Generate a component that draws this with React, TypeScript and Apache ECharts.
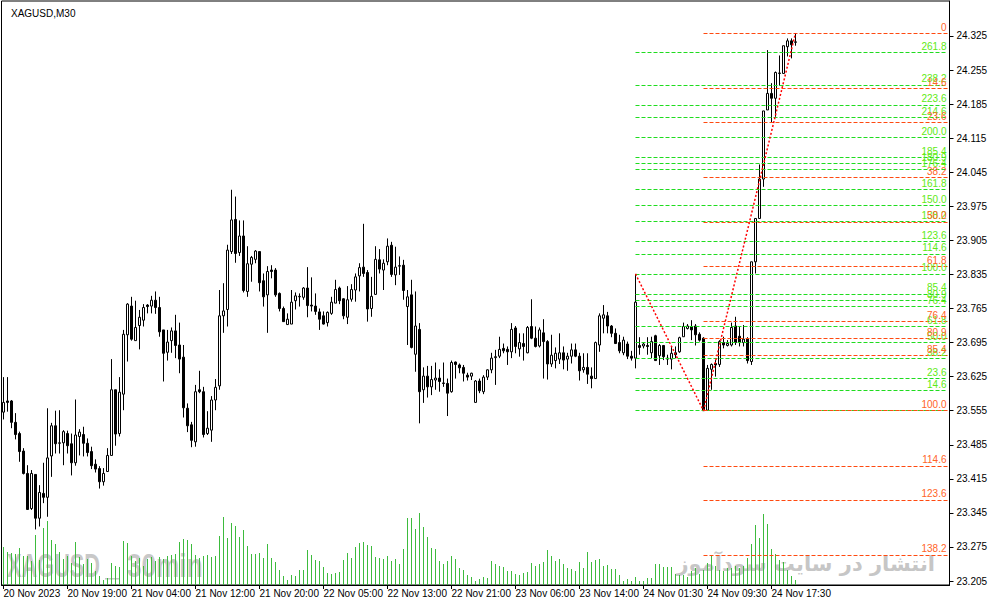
import { useEffect, useRef } from 'react'
import * as echarts from 'echarts'

// MT4 style XAGUSD M30 chart: candles, tick volume and two fibonacci fans

const SLOT_COUNT = 237
const LABEL_STEP = 16

const timeLabels = [
  '20 Nov 2023', '20 Nov 19:00', '21 Nov 04:00', '21 Nov 12:00', '21 Nov 20:00',
  '22 Nov 05:00', '22 Nov 13:00', '22 Nov 21:00', '23 Nov 06:00', '23 Nov 14:00',
  '24 Nov 01:30', '24 Nov 09:30', '24 Nov 17:30',
]

const priceTicks = [
  24.325, 24.255, 24.185, 24.115, 24.045, 23.975, 23.905, 23.835, 23.765,
  23.695, 23.625, 23.555, 23.485, 23.415, 23.345, 23.275, 23.205,
]

// [open, close, low, high]
const candles = [
  [23.552, 23.572, 23.537, 23.624], [23.575, 23.572, 23.553, 23.624], [23.575, 23.531, 23.519, 23.577],
  [23.531, 23.506, 23.496, 23.55], [23.508, 23.471, 23.45, 23.512], [23.472, 23.426, 23.424, 23.478],
  [23.426, 23.352, 23.351, 23.443], [23.354, 23.426, 23.351, 23.433], [23.424, 23.334, 23.311, 23.424],
  [23.334, 23.387, 23.317, 23.402], [23.385, 23.377, 23.365, 23.448], [23.377, 23.458, 23.337, 23.56],
  [23.462, 23.524, 23.419, 23.53], [23.524, 23.487, 23.467, 23.555], [23.488, 23.489, 23.467, 23.556],
  [23.489, 23.512, 23.443, 23.515], [23.508, 23.483, 23.467, 23.514], [23.487, 23.448, 23.422, 23.508],
  [23.448, 23.505, 23.442, 23.578], [23.502, 23.511, 23.463, 23.517], [23.506, 23.488, 23.461, 23.522],
  [23.488, 23.469, 23.461, 23.498], [23.471, 23.442, 23.435, 23.481], [23.445, 23.435, 23.428, 23.455],
  [23.436, 23.409, 23.395, 23.441], [23.409, 23.426, 23.401, 23.437], [23.43, 23.463, 23.43, 23.478],
  [23.463, 23.598, 23.463, 23.661], [23.598, 23.507, 23.483, 23.598], [23.508, 23.593, 23.502, 23.624],
  [23.589, 23.712, 23.556, 23.721], [23.711, 23.774, 23.656, 23.776], [23.77, 23.702, 23.699, 23.789],
  [23.699, 23.726, 23.699, 23.781], [23.73, 23.747, 23.681, 23.762], [23.741, 23.767, 23.728, 23.774],
  [23.772, 23.769, 23.755, 23.774], [23.77, 23.782, 23.755, 23.791], [23.782, 23.767, 23.754, 23.8],
  [23.767, 23.717, 23.707, 23.789], [23.721, 23.673, 23.615, 23.721], [23.675, 23.696, 23.658, 23.721],
  [23.699, 23.719, 23.674, 23.726], [23.719, 23.689, 23.663, 23.752], [23.69, 23.661, 23.632, 23.736],
  [23.665, 23.561, 23.541, 23.69], [23.56, 23.524, 23.511, 23.57], [23.526, 23.494, 23.48, 23.532],
  [23.491, 23.594, 23.481, 23.608], [23.598, 23.594, 23.591, 23.637], [23.594, 23.506, 23.5, 23.604],
  [23.508, 23.519, 23.505, 23.554], [23.515, 23.577, 23.491, 23.585], [23.577, 23.603, 23.556, 23.62],
  [23.606, 23.75, 23.598, 23.803], [23.75, 23.76, 23.715, 23.817], [23.763, 23.885, 23.728, 23.896],
  [23.882, 23.947, 23.877, 24.009], [23.948, 23.878, 23.859, 23.995], [23.88, 23.914, 23.873, 23.946],
  [23.914, 23.802, 23.798, 23.946], [23.8, 23.857, 23.789, 23.893], [23.856, 23.87, 23.82, 23.873],
  [23.866, 23.883, 23.858, 23.885], [23.882, 23.818, 23.8, 23.882], [23.822, 23.789, 23.769, 23.837],
  [23.793, 23.841, 23.715, 23.852], [23.844, 23.841, 23.827, 23.854], [23.844, 23.793, 23.789, 23.848],
  [23.796, 23.765, 23.759, 23.798], [23.765, 23.738, 23.738, 23.769], [23.732, 23.743, 23.731, 23.755],
  [23.733, 23.778, 23.733, 23.803], [23.781, 23.791, 23.763, 23.798], [23.789, 23.79, 23.769, 23.796],
  [23.788, 23.807, 23.783, 23.809], [23.807, 23.771, 23.747, 23.85], [23.772, 23.77, 23.759, 23.829],
  [23.77, 23.759, 23.752, 23.796], [23.758, 23.743, 23.721, 23.765], [23.75, 23.733, 23.732, 23.759],
  [23.736, 23.757, 23.728, 23.759], [23.755, 23.778, 23.752, 23.789], [23.776, 23.804, 23.776, 23.824],
  [23.807, 23.781, 23.774, 23.81], [23.785, 23.75, 23.743, 23.786], [23.747, 23.783, 23.733, 23.811],
  [23.784, 23.804, 23.779, 23.815], [23.803, 23.83, 23.779, 23.837], [23.832, 23.849, 23.8, 23.858],
  [23.85, 23.837, 23.83, 23.939], [23.839, 23.764, 23.738, 23.844], [23.765, 23.79, 23.748, 23.83],
  [23.794, 23.866, 23.793, 23.893], [23.865, 23.846, 23.837, 23.887], [23.844, 23.858, 23.803, 23.866],
  [23.861, 23.893, 23.854, 23.909], [23.895, 23.835, 23.83, 23.902], [23.834, 23.85, 23.813, 23.892],
  [23.852, 23.853, 23.834, 23.872], [23.854, 23.802, 23.783, 23.865], [23.769, 23.789, 23.69, 23.803],
  [23.793, 23.685, 23.683, 23.824], [23.671, 23.729, 23.635, 23.8], [23.722, 23.594, 23.529, 23.735],
  [23.598, 23.626, 23.571, 23.644], [23.626, 23.604, 23.582, 23.647], [23.604, 23.619, 23.587, 23.647],
  [23.618, 23.622, 23.598, 23.654], [23.622, 23.615, 23.594, 23.64], [23.612, 23.611, 23.604, 23.654],
  [23.611, 23.591, 23.544, 23.621], [23.594, 23.654, 23.592, 23.658], [23.655, 23.65, 23.621, 23.656],
  [23.649, 23.643, 23.632, 23.652], [23.644, 23.632, 23.615, 23.649], [23.628, 23.624, 23.617, 23.633],
  [23.626, 23.632, 23.618, 23.633], [23.572, 23.616, 23.572, 23.618], [23.616, 23.596, 23.591, 23.621],
  [23.594, 23.624, 23.589, 23.628], [23.624, 23.639, 23.618, 23.64], [23.639, 23.663, 23.632, 23.674],
  [23.664, 23.666, 23.608, 23.68], [23.667, 23.681, 23.663, 23.707], [23.683, 23.678, 23.673, 23.693],
  [23.681, 23.676, 23.649, 23.687], [23.676, 23.722, 23.663, 23.735], [23.725, 23.687, 23.673, 23.729],
  [23.682, 23.695, 23.666, 23.714], [23.693, 23.687, 23.658, 23.714], [23.674, 23.726, 23.673, 23.729],
  [23.728, 23.704, 23.702, 23.784], [23.704, 23.687, 23.685, 23.728], [23.688, 23.721, 23.685, 23.726],
  [23.715, 23.697, 23.621, 23.743], [23.697, 23.651, 23.619, 23.7], [23.651, 23.669, 23.645, 23.711],
  [23.658, 23.673, 23.642, 23.685], [23.661, 23.674, 23.651, 23.714], [23.674, 23.659, 23.64, 23.687],
  [23.661, 23.667, 23.637, 23.674], [23.667, 23.68, 23.652, 23.693], [23.68, 23.667, 23.665, 23.693],
  [23.667, 23.637, 23.617, 23.674], [23.639, 23.644, 23.633, 23.673], [23.644, 23.63, 23.61, 23.673],
  [23.626, 23.621, 23.601, 23.644], [23.621, 23.695, 23.621, 23.697], [23.69, 23.75, 23.676, 23.755],
  [23.745, 23.752, 23.714, 23.772], [23.75, 23.729, 23.714, 23.758], [23.729, 23.714, 23.706, 23.731],
  [23.714, 23.693, 23.692, 23.724], [23.695, 23.678, 23.673, 23.711], [23.674, 23.7, 23.669, 23.707],
  [23.692, 23.667, 23.661, 23.697], [23.667, 23.663, 23.658, 23.678], [23.663, 23.778, 23.642, 23.836],
  [23.689, 23.685, 23.67, 23.706], [23.688, 23.692, 23.683, 23.695], [23.689, 23.687, 23.67, 23.706],
  [23.674, 23.697, 23.663, 23.707], [23.709, 23.658, 23.658, 23.711], [23.668, 23.689, 23.649, 23.692],
  [23.689, 23.666, 23.659, 23.69], [23.663, 23.661, 23.649, 23.67], [23.661, 23.673, 23.64, 23.687],
  [23.674, 23.67, 23.663, 23.687], [23.676, 23.705, 23.674, 23.707], [23.707, 23.728, 23.707, 23.736],
  [23.724, 23.729, 23.722, 23.733], [23.728, 23.721, 23.7, 23.741], [23.729, 23.711, 23.689, 23.733],
  [23.712, 23.7, 23.697, 23.716], [23.704, 23.555, 23.555, 23.706], [23.556, 23.642, 23.555, 23.649],
  [23.64, 23.65, 23.598, 23.652], [23.652, 23.649, 23.625, 23.659], [23.65, 23.697, 23.645, 23.7],
  [23.695, 23.69, 23.683, 23.707], [23.689, 23.693, 23.687, 23.7], [23.69, 23.726, 23.687, 23.736],
  [23.729, 23.695, 23.69, 23.748], [23.708, 23.695, 23.687, 23.728], [23.695, 23.702, 23.687, 23.731],
  [23.702, 23.658, 23.652, 23.706], [23.656, 23.861, 23.649, 23.861], [23.861, 23.95, 23.837, 23.95],
  [23.95, 24.031, 23.95, 24.061], [24.031, 24.171, 24.015, 24.171], [24.173, 24.207, 24.173, 24.296],
  [24.207, 24.197, 24.148, 24.228], [24.197, 24.25, 24.159, 24.252], [24.248, 24.249, 24.223, 24.285],
  [24.248, 24.305, 24.248, 24.305], [24.303, 24.315, 24.283, 24.32], [24.315, 24.307, 24.279, 24.32],
  [24.312, 24.313, 24.305, 24.331],
]

// tick volume per bar (hundreds of ticks)
const volumes = [
  38, 33, 32, 31, 37, 29, 29, 24, 50, 25,
  57, 64, 45, 41, 33, 26, 29, 22, 43, 28,
  21, 26, 22, 14, 9, 5, 7, 22, 19, 18,
  44, 42, 29, 24, 27, 19, 26, 28, 24, 28,
  26, 29, 30, 31, 43, 46, 45, 41, 30, 27,
  29, 30, 28, 29, 49, 68, 47, 62, 59, 48,
  55, 39, 31, 31, 32, 27, 41, 27, 23, 15,
  9, 5, 10, 9, 15, 15, 35, 30, 25, 24,
  18, 12, 11, 12, 13, 25, 32, 27, 38, 42,
  43, 40, 39, 28, 27, 26, 29, 24, 26, 21,
  36, 67, 67, 56, 72, 58, 48, 37, 36, 24,
  21, 24, 29, 26, 17, 15, 10, 8, 4, 6,
  8, 7, 24, 21, 19, 18, 14, 14, 11, 10,
  12, 13, 22, 19, 21, 23, 35, 29, 24, 26,
  21, 17, 16, 14, 23, 17, 33, 23, 25, 26,
  19, 20, 16, 16, 10, 4, 6, 4, 8, 4,
  4, 7, 7, 21, 21, 18, 18, 18, 11, 10,
  10, 8, 14, 17, 11, 15, 22, 30, 19, 15,
  14, 17, 17, 19, 17, 19, 27, 41, 60, 47,
  71, 61, 36, 31, 25, 23, 15, 9, 5,
]

// fibonacci anchors: [bar index, price]; first point = 100, second point = 0
const greenFibStart = [158, 23.836]
const greenFibEnd = [175, 23.555]
const greenLevels = [
  0, 14.6, 23.6, 38.2, 50, 61.8, 76.4, 80.9, 85.4, 100, 114.6, 123.6,
  138.2, 150, 161.8, 176.4, 180.9, 185.4, 200, 214.6, 223.6, 238.2, 261.8,
]
const orangeFibStart = [175, 23.555]
const orangeFibEnd = [198, 24.331]
const orangeLevels = [0, 14.6, 23.6, 38.2, 50, 61.8, 76.4, 80.9, 85.4, 100, 114.6, 123.6, 138.2]

const FONT = 'Liberation Sans'
const Y_MIN = 23.1968
const Y_MAX = 24.3969
const VOL_MAX = 584

const slotLabels = Array.from({ length: SLOT_COUNT }, (_, i) =>
  i % LABEL_STEP === 0 && i / LABEL_STEP < timeLabels.length ? timeLabels[i / LABEL_STEP] : '',
)

function fibSeries(
  levels: number[],
  start: number[],
  end: number[],
  lineColor: string,
  textColor: string,
  z: number,
  hideZeroLabel: boolean,
) {
  const fromIndex = Math.min(start[0], end[0])
  return {
    type: 'line',
    data: [],
    z,
    silent: true,
    markLine: {
      silent: true,
      symbol: ['none', 'none'],
      animation: false,
      lineStyle: { color: lineColor, type: [4, 2], width: 1 },
      label: {
        show: true,
        position: 'insideEndTop',
        formatter: '{b}',
        color: textColor,
        fontSize: 10,
        fontFamily: FONT,
        distance: [1, 1],
      },
      data: levels.map((level) => {
        const price = end[1] + ((start[1] - end[1]) * level) / 100
        let name = level === 0 ? '0' : level.toFixed(1)
        if (level === 0 && hideZeroLabel) name = ''
        return [
          { name, coord: [fromIndex, price] },
          { coord: [SLOT_COUNT - 1, price] },
        ]
      }),
    },
  }
}

export default function App() {
  const chartRef = useRef<HTMLDivElement | null>(null)

  useEffect(() => {
    document.body.style.margin = '0'
    if (!chartRef.current) {
      return
    }

    const chart = echarts.init(chartRef.current, null, { renderer: 'svg' })
    chart.setOption({
      animation: false,
      backgroundColor: '#ffffff',
      title: {
        text: 'XAGUSD,M30',
        left: 6,
        top: 3,
        textStyle: { fontSize: 10, fontWeight: 'normal', fontFamily: FONT, color: '#000' },
      },
      grid: {
        left: 1.5,
        right: 41.5,
        top: 1,
        bottom: 20,
        show: true,
        borderColor: '#000',
        borderWidth: 1,
      },
      xAxis: {
        type: 'category',
        data: slotLabels,
        boundaryGap: true,
        axisLine: { show: true, lineStyle: { color: '#000', width: 1 } },
        axisTick: {
          show: true,
          alignWithLabel: true,
          length: 4,
          interval: (_: number, value: string) => value !== '',
          lineStyle: { color: '#000' },
        },
        axisLabel: {
          interval: (_: number, value: string) => value !== '',
          align: 'left',
          margin: 3,
          color: '#000',
          fontSize: 10,
          fontFamily: FONT,
        },
        splitLine: { show: false },
      },
      yAxis: [
        {
          type: 'value',
          position: 'right',
          min: Y_MIN,
          max: Y_MAX,
          axisLine: { show: true, lineStyle: { color: '#000' } },
          axisTick: { show: true, customValues: priceTicks, length: 4, lineStyle: { color: '#000' } },
          axisLabel: {
            customValues: priceTicks,
            formatter: (v: number) => v.toFixed(3),
            margin: 7,
            color: '#000',
            fontSize: 10,
            fontFamily: FONT,
          },
          splitLine: { show: false },
        },
        { type: 'value', min: 0, max: VOL_MAX, show: false, splitLine: { show: false } },
      ],
      graphic: [
        {
          type: 'text',
          x: 7,
          y: 548,
          scaleX: 0.64,
          style: { text: 'XAGUSD', font: 'bold 34px "Liberation Sans"', fill: '#c8c8c8' },
        },
        {
          type: 'rect',
          shape: { x: 105, y: 578, width: 15, height: 1.5 },
          style: { fill: '#c8c8c8' },
        },
        {
          type: 'text',
          x: 127,
          y: 548,
          scaleX: 0.77,
          style: { text: '30min', font: 'bold 34px "Liberation Sans"', fill: '#c8c8c8' },
        },
        {
          type: 'text',
          x: 935,
          y: 564,
          style: {
            text: 'انتشار در سایت سودآموز',
            font: 'bold 21px "DejaVu Sans"',
            fill: '#c6c6c6',
            align: 'right',
            verticalAlign: 'middle',
          },
        },
      ],
      series: [
        {
          type: 'bar',
          yAxisIndex: 1,
          data: volumes,
          barWidth: 1,
          z: 1,
          silent: true,
          itemStyle: { color: '#3dbb3d' },
        },
        {
          type: 'candlestick',
          data: candles,
          barWidth: 2,
          z: 2,
          itemStyle: {
            color: '#ffffff',
            color0: '#000000',
            borderColor: '#000000',
            borderColor0: '#000000',
            borderWidth: 1,
          },
        },
        fibSeries(greenLevels, greenFibStart, greenFibEnd, '#1fdc1f', '#5eea12', 3, true),
        fibSeries(orangeLevels, orangeFibStart, orangeFibEnd, '#ff4a10', '#ff6428', 4, false),
        {
          type: 'line',
          data: [],
          z: 5,
          silent: true,
          markLine: {
            silent: true,
            symbol: ['none', 'none'],
            animation: false,
            label: { show: false },
            lineStyle: { color: '#ff0000', type: [2, 2], width: 1.5 },
            data: [
              [{ coord: greenFibStart }, { coord: greenFibEnd }],
              [{ coord: orangeFibStart }, { coord: orangeFibEnd }],
            ],
          },
        },
      ],
    })

    return () => {
      chart.dispose()
    }
  }, [])

  return <div ref={chartRef} style={{ width: 991, height: 605, background: '#fff' }} />
}
